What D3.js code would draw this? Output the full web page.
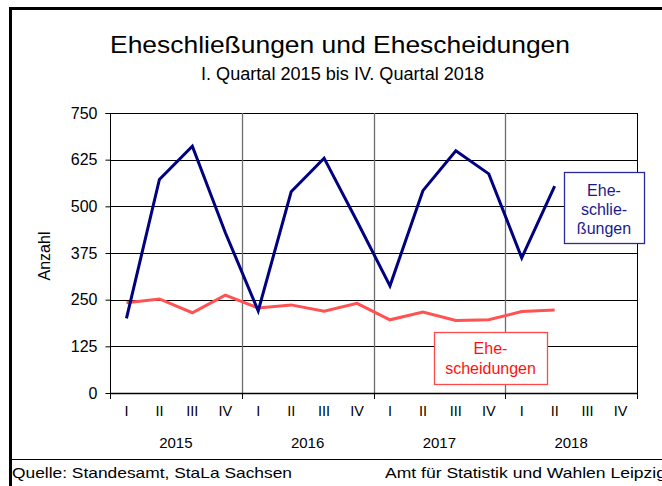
<!DOCTYPE html>
<html>
<head>
<meta charset="utf-8">
<script src="https://cdn.jsdelivr.net/npm/d3@7"></script>
<style>
  html, body { margin: 0; padding: 0; background: #fff; }
  svg { display: block; font-family: "Liberation Sans", Arial, sans-serif; }
</style>
</head>
<body>
<svg id="chart" width="662" height="486"></svg>
<script>
// Quarterly figures, I/2015 – IV/2018
const years = ["2015", "2016", "2017", "2018"];
const quarters = ["I", "II", "III", "IV"];
const eheschliessungen = [200, 572, 661, 430, 220, 539, 629, 460, 287, 542, 649, 587, 362, 554];
const ehescheidungen   = [242, 252, 215, 262, 228, 236, 219, 240, 196, 217, 194, 196, 218, 222];
const yTicks = [0, 125, 250, 375, 500, 625, 750];

(function () {
const svg = d3.select("#chart");
const W = 662, H = 486;

// outer frame (left and top edges, thick)
svg.append("rect").attr("x", 0).attr("y", 0).attr("width", W).attr("height", H).attr("fill", "#fff");
svg.append("line").attr("x1", 10.5).attr("x2", 10.5).attr("y1", 7).attr("y2", H).attr("stroke", "#000").attr("stroke-width", 3);
svg.append("line").attr("x1", 9).attr("x2", W).attr("y1", 8.5).attr("y2", 8.5).attr("stroke", "#000").attr("stroke-width", 3);

// footer
svg.append("line").attr("x1", 12).attr("x2", W).attr("y1", 459.5).attr("y2", 459.5).attr("stroke", "#000").attr("stroke-width", 1);
svg.append("text").attr("x", 12).attr("y", 478).attr("font-size", 15).attr("fill", "#000")
  .attr("textLength", 280).attr("lengthAdjust", "spacingAndGlyphs")
  .text("Quelle: Standesamt, StaLa Sachsen");
svg.append("text").attr("x", 385).attr("y", 478).attr("font-size", 15).attr("fill", "#000")
  .attr("textLength", 281).attr("lengthAdjust", "spacingAndGlyphs")
  .text("Amt für Statistik und Wahlen Leipzig");

// titles
svg.append("text").attr("x", 340).attr("y", 52.5).attr("text-anchor", "middle")
  .attr("font-size", 24.5).attr("fill", "#000")
  .attr("textLength", 460).attr("lengthAdjust", "spacingAndGlyphs")
  .text("Eheschließungen und Ehescheidungen");
svg.append("text").attr("x", 342.5).attr("y", 79.5).attr("text-anchor", "middle")
  .attr("font-size", 17.5).attr("fill", "#000").attr("textLength", 283).attr("lengthAdjust", "spacingAndGlyphs")
  .text("I. Quartal 2015 bis IV. Quartal 2018");

// plot area
const pLeft = 110, pRight = 637, pTop = 113, pBottom = 393;
const nQ = years.length * quarters.length;
const x = d3.scaleLinear().domain([0, nQ]).range([pLeft, pRight]);
const y = d3.scaleLinear().domain([0, 750]).range([pBottom, pTop]);

const g = svg.append("g");

// horizontal grid
g.selectAll("line.hgrid").data(yTicks.filter(v => v > 0)).join("line")
  .attr("class", "hgrid")
  .attr("x1", pLeft).attr("x2", pRight)
  .attr("y1", d => Math.round(y(d)) + 0.5).attr("y2", d => Math.round(y(d)) + 0.5)
  .attr("stroke", "#000").attr("stroke-width", 1);

// vertical year separators
g.selectAll("line.vgrid").data(d3.range(1, years.length)).join("line")
  .attr("class", "vgrid")
  .attr("x1", d => Math.round(x(d * 4)) + 0.5).attr("x2", d => Math.round(x(d * 4)) + 0.5)
  .attr("y1", pTop).attr("y2", pBottom)
  .attr("stroke", "#6e6e6e").attr("stroke-width", 1.3);

// right border
g.append("line").attr("x1", pRight + 0.5).attr("x2", pRight + 0.5).attr("y1", pTop).attr("y2", pBottom + 6)
  .attr("stroke", "#000").attr("stroke-width", 1);

// y axis
const yAxis = d3.axisLeft(y).tickValues(yTicks).tickSize(5).tickPadding(8);
const ya = g.append("g").attr("transform", `translate(${pLeft + 0.5},0)`).call(yAxis);
ya.select(".domain").attr("stroke", "#000").attr("d", `M-5,${pTop + 0.5}H0V${pBottom + 0.5}`);
ya.selectAll(".tick line").attr("stroke", "#000");
ya.selectAll(".tick text").attr("font-size", 16).attr("fill", "#000")
  .attr("font-family", "Liberation Sans, Arial, sans-serif");

svg.append("text").attr("transform", "translate(50,256) rotate(-90)")
  .attr("text-anchor", "middle").attr("font-size", 16).attr("fill", "#000").text("Anzahl");

// x axis: ticks at year boundaries
const xb = g.append("g");
xb.append("line").attr("x1", pLeft).attr("x2", pRight).attr("y1", pBottom + 0.5).attr("y2", pBottom + 0.5)
  .attr("stroke", "#000").attr("stroke-width", 1.5);
xb.selectAll("line.xt").data(d3.range(0, years.length + 1)).join("line")
  .attr("class", "xt")
  .attr("x1", d => Math.round(x(d * 4)) + 0.5).attr("x2", d => Math.round(x(d * 4)) + 0.5)
  .attr("y1", pBottom).attr("y2", pBottom + 6)
  .attr("stroke", "#000").attr("stroke-width", 1);

const qLabels = d3.range(nQ).map(i => ({ i, t: quarters[i % 4] }));
xb.selectAll("text.q").data(qLabels).join("text")
  .attr("class", "q")
  .attr("x", d => x(d.i + 0.5)).attr("y", 416)
  .attr("text-anchor", "middle").attr("font-size", 14.5).attr("fill", "#000")
  .text(d => d.t);

xb.selectAll("text.yr").data(years).join("text")
  .attr("class", "yr")
  .attr("x", (d, i) => x(i * 4 + 2)).attr("y", 447.5)
  .attr("text-anchor", "middle").attr("font-size", 15).attr("fill", "#000")
  .text(d => d);

// series lines
const line = d3.line().x((d, i) => x(i + 0.5)).y(d => y(d));
g.append("path").datum(ehescheidungen).attr("d", line)
  .attr("fill", "none").attr("stroke", "#ff5252").attr("stroke-width", 3).attr("stroke-linejoin", "miter");
g.append("path").datum(eheschliessungen).attr("d", line)
  .attr("fill", "none").attr("stroke", "#000080").attr("stroke-width", 3).attr("stroke-linejoin", "miter");

// series labels
function labelBox(bx, by, bw, bh, lines, stroke, textCol, lineYs) {
  const lg = svg.append("g");
  lg.append("rect").attr("x", bx + 0.5).attr("y", by + 0.5).attr("width", bw).attr("height", bh)
    .attr("fill", "#fff").attr("stroke", stroke).attr("stroke-width", 1.3);
  lg.selectAll("text").data(lines).join("text")
    .attr("x", bx + bw / 2).attr("y", (d, i) => lineYs[i])
    .attr("text-anchor", "middle").attr("font-size", 16).attr("fill", textCol)
    .text(d => d);
}
labelBox(564, 172, 80, 71, ["Ehe-", "schlie-", "ßungen"], "#2a2a9a", "#1a1a8c", [196, 215, 233.5]);
labelBox(434, 332, 113, 52, ["Ehe-", "scheidungen"], "#ff4a4a", "#ff1010", [354, 374]);
})();
</script>
</body>
</html>
